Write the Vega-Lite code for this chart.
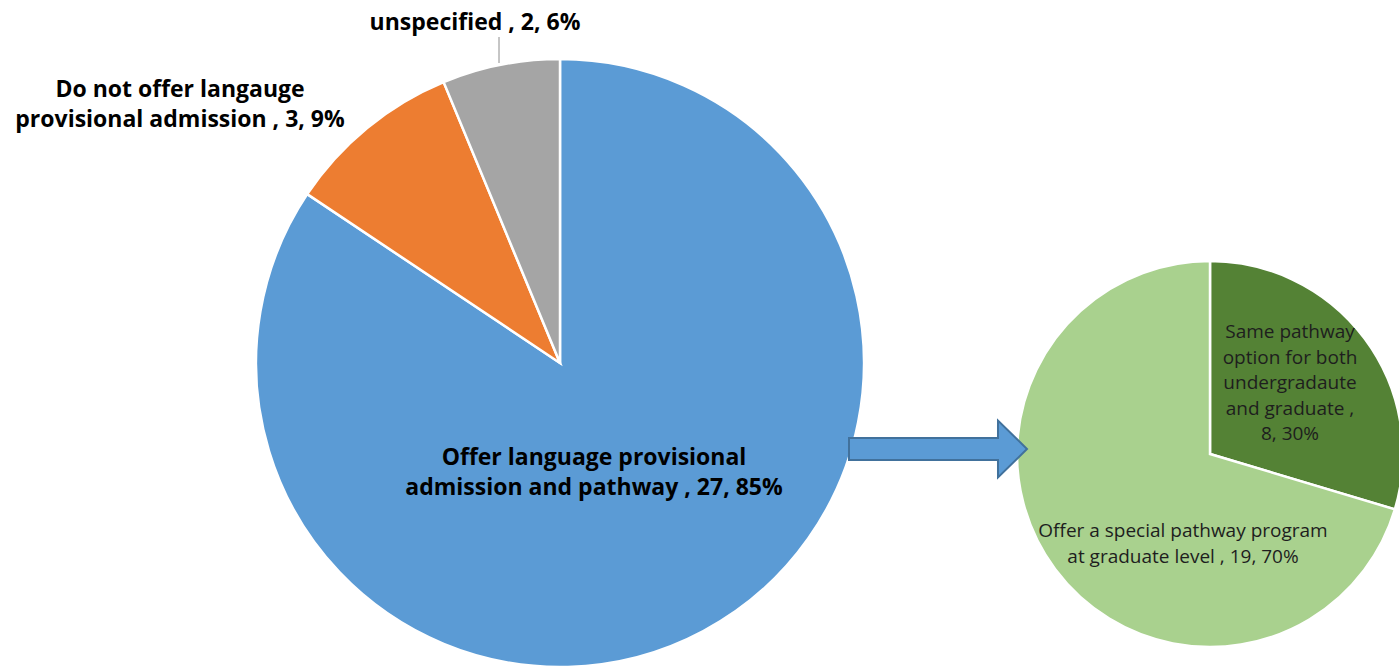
{
  "$schema": "https://vega.github.io/schema/vega-lite/v6.json",
  "autosize": {"type": "fit", "contains": "padding"},
  "width": 1399,
  "height": 668,
  "padding": 0,
  "background": "white",
  "config": {"view": {"stroke": null}},
  "data": {
    "values": [
      {"pie": "main", "category": "Offer language provisional admission and pathway", "value": 27, "order": 1, "label": "Offer language provisional\nadmission and pathway , 27, 85%"},
      {"pie": "main", "category": "Do not offer langauge provisional admission", "value": 3, "order": 2, "label": "Do not offer langauge\nprovisional admission , 3, 9%"},
      {"pie": "main", "category": "unspecified", "value": 2, "order": 3, "label": "unspecified , 2, 6%"},
      {"pie": "sub", "category": "Same pathway option for both undergradaute and graduate", "value": 8, "order": 1, "label": "Same pathway\noption for both\nundergradaute\nand graduate ,\n8, 30%"},
      {"pie": "sub", "category": "Offer a special pathway program at graduate level", "value": 19, "order": 2, "label": "Offer a special pathway program\nat graduate level , 19, 70%"}
    ]
  },
  "transform": [
    {"stack": "value", "groupby": ["pie"], "sort": [{"field": "order", "order": "ascending"}], "as": ["v0", "v1"], "offset": "normalize"}
  ],
  "encoding": {
    "x": {"field": "pie", "type": "nominal", "axis": null, "scale": {"type": "point", "domain": ["main", "sub"], "range": [560, 1210], "padding": 0}},
    "y": {"field": "pie", "type": "nominal", "axis": null, "scale": {"type": "point", "domain": ["main", "sub"], "range": [363, 454], "padding": 0}}
  },
  "layer": [
    {
      "transform": [{"filter": "datum.pie === 'main'"}],
      "mark": {"type": "arc", "radius": 304, "stroke": "white", "strokeWidth": 2.5},
      "encoding": {
        "theta": {"field": "v0", "type": "quantitative", "scale": {"domain": [0, 1], "range": [0, 6.283185307179586]}},
        "theta2": {"field": "v1"},
        "color": {"field": "category", "type": "nominal", "legend": null, "scale": {
          "domain": ["Offer language provisional admission and pathway", "Do not offer langauge provisional admission", "unspecified", "Same pathway option for both undergradaute and graduate", "Offer a special pathway program at graduate level"],
          "range": ["#5B9BD5", "#ED7D31", "#A5A5A5", "#548235", "#A9D18E"]}}
      }
    },
    {
      "transform": [{"filter": "datum.pie === 'sub'"}],
      "mark": {"type": "arc", "radius": 193, "stroke": "white", "strokeWidth": 2.5},
      "encoding": {
        "theta": {"field": "v0", "type": "quantitative", "scale": {"domain": [0, 1], "range": [0, 6.283185307179586]}},
        "theta2": {"field": "v1"},
        "color": {"field": "category", "type": "nominal", "legend": null}
      }
    },
    {
      "transform": [{"filter": "datum.category === 'unspecified'"}],
      "mark": {"type": "rule", "color": "#8C8C8C", "strokeWidth": 1, "xOffset": -61, "yOffset": -300, "y2Offset": -326},
      "encoding": {
        "y2": {"field": "pie"}
      }
    },
    {
      "transform": [{"filter": "datum.category === 'unspecified'"}],
      "mark": {"type": "point", "filled": true, "shape": "M-1,-0.124L0.674,-0.124L0.674,-0.32L1,0L0.674,0.32L0.674,0.124L-1,0.124Z", "size": 31684, "fill": "#5B9BD5", "stroke": "#41719C", "strokeWidth": 2, "opacity": 1, "xOffset": 378, "yOffset": 86},
      "encoding": {}
    },
    {
      "transform": [{"filter": "datum.category === 'unspecified'"}],
      "mark": {"type": "text", "font": "Open Sans", "fontWeight": "bold", "fontSize": 23, "color": "#000000", "align": "center", "baseline": "alphabetic", "dx": -85, "dy": -333},
      "encoding": {"text": {"field": "label"}}
    },
    {
      "transform": [{"filter": "datum.category === 'Do not offer langauge provisional admission'"}],
      "mark": {"type": "text", "font": "Open Sans", "fontWeight": "bold", "fontSize": 23, "color": "#000000", "align": "center", "baseline": "alphabetic", "lineBreak": "\n", "lineHeight": 30, "dx": -380, "dy": -266},
      "encoding": {"text": {"field": "label"}}
    },
    {
      "transform": [{"filter": "datum.category === 'Offer language provisional admission and pathway'"}],
      "mark": {"type": "text", "font": "Open Sans", "fontWeight": "bold", "fontSize": 23, "color": "#000000", "align": "center", "baseline": "alphabetic", "lineBreak": "\n", "lineHeight": 30, "dx": 34, "dy": 102},
      "encoding": {"text": {"field": "label"}}
    },
    {
      "transform": [{"filter": "datum.category === 'Same pathway option for both undergradaute and graduate'"}],
      "mark": {"type": "text", "font": "Open Sans", "fontSize": 19, "color": "#1E1E1E", "align": "center", "baseline": "alphabetic", "lineBreak": "\n", "lineHeight": 25.5, "dx": 80, "dy": -116},
      "encoding": {"text": {"field": "label"}}
    },
    {
      "transform": [{"filter": "datum.category === 'Offer a special pathway program at graduate level'"}],
      "mark": {"type": "text", "font": "Open Sans", "fontSize": 19, "color": "#1E1E1E", "align": "center", "baseline": "alphabetic", "lineBreak": "\n", "lineHeight": 26, "dx": -27, "dy": 83},
      "encoding": {"text": {"field": "label"}}
    }
  ]
}
